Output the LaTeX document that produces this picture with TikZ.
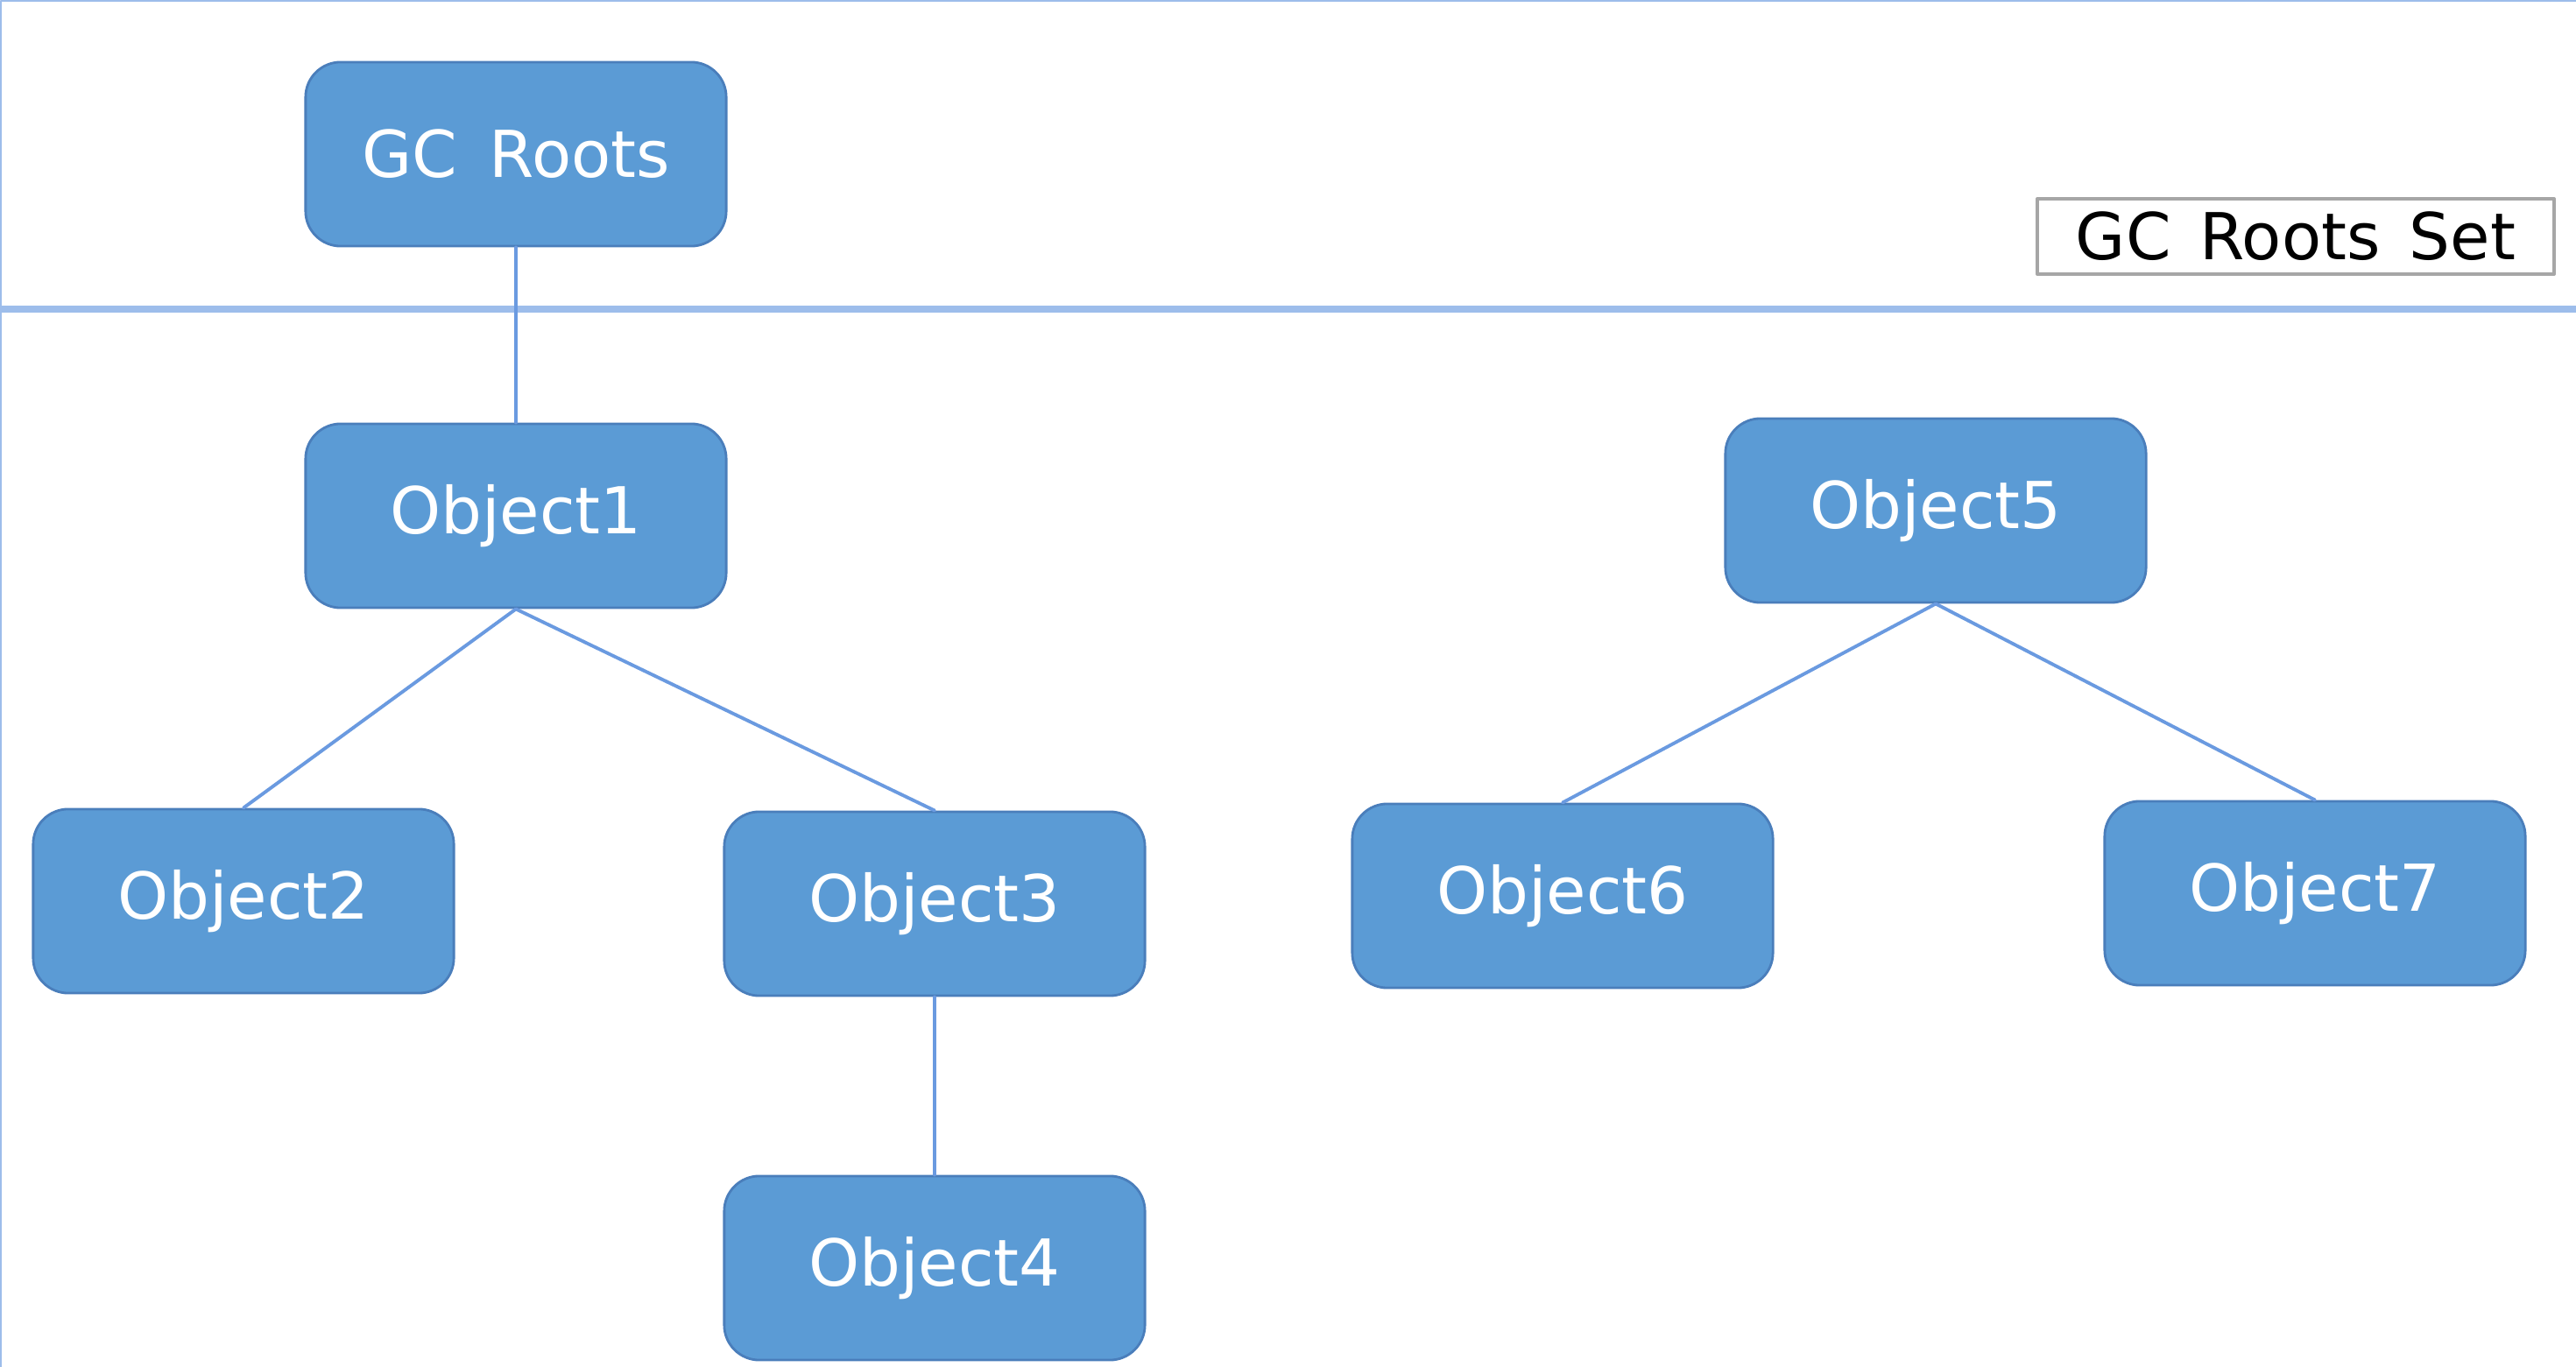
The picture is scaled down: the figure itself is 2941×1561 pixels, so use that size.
\documentclass[tikz,border=0pt]{standalone}
\usepackage{fontspec}
\setmainfont{DejaVu Sans}
\usepackage{xcolor}
\usetikzlibrary{positioning}
\definecolor{boxblue}{HTML}{5B9BD5}
\definecolor{boxedge}{HTML}{4A7EBB}
\definecolor{linkblue}{HTML}{6A9AE0}
\definecolor{ruleblue}{HTML}{9DBDEB}
\tikzset{
  obj/.style={draw=boxedge,fill=boxblue,rounded corners=0.4cm,line width=0.8pt,
    minimum width=4.8cm,minimum height=2.1cm,text=white,
    font=\fontsize{21}{25}\selectfont},
  setbox/.style={draw=gray!70,line width=1pt,minimum width=5.9cm,minimum height=0.86cm,
    font=\fontsize{21}{25}\selectfont},
  link/.style={draw=linkblue,line width=1.1pt},
  divider/.style={draw=ruleblue,line width=2pt}
}

\begin{document}
\begin{tikzpicture}[x=0.01cm,y=-0.01cm,line cap=round,line join=round]
  % ---- canvas (same size as the screenshot) ----
  \fill[white] (0,0) rectangle (2941,1561);
  \useasboundingbox (0,0) rectangle (2941,1561);
  \draw[ruleblue,line width=0.8pt] (1,1561) -- (1,1) -- (2941,1);

  % ---- root set separator ----
  \draw[divider] (0,353) -- (2941,353);
  \node[setbox] (set) at (2621,270) {GC\hspace{0.45em}Roots\hspace{0.45em}Set};

  % ---- objects ----
  \node[obj] (gc) at (589,176) {GC\hspace{0.5em}Roots};
  \node[obj] (o1) at (589,589) {Object1};
  \node[obj] (o2) at (278,1029) {Object2};
  \node[obj] (o3) at (1067,1032) {Object3};
  \node[obj] (o4) at (1067,1448) {Object4};
  \node[obj] (o5) at (2210,583) {Object5};
  \node[obj] (o6) at (1784,1023) {Object6};
  \node[obj] (o7) at (2643,1020) {Object7};

  % ---- references ----
  \draw[link] (gc.south) -- (o1.north);
  \draw[link] (o1.south) -- (o2.north);
  \draw[link] (o1.south) -- (o3.north);
  \draw[link] (o3.south) -- (o4.north);
  \draw[link] (o5.south) -- (o6.north);
  \draw[link] (o5.south) -- (o7.north);
\end{tikzpicture}
\end{document}
